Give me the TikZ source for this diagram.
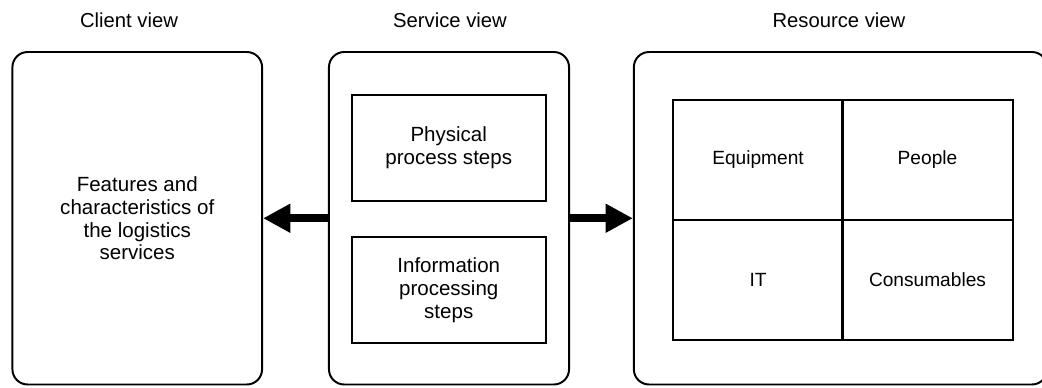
\documentclass[tikz,border=0pt]{standalone}
\usepackage{fontspec}
\setmainfont{Liberation Sans}
\usetikzlibrary{arrows.meta, positioning}

\begin{document}
\begin{tikzpicture}[x=0.025cm, y=-0.025cm,
  view/.style={draw, line width=1.4pt, rounded corners=0.38cm, minimum height=8.31cm, align=center, font=\fontsize{14.6}{16.3}\selectfont},
  stepbox/.style={draw, line width=1.4pt, align=center, minimum width=4.84cm, minimum height=2.64cm, font=\fontsize{14.6}{16.3}\selectfont},
  cell/.style={draw, line width=1.4pt, minimum width=4.25cm, minimum height=3.02cm, font=\fontsize{13.6}{15}\selectfont},
  title/.style={font=\fontsize{14.4}{17}\selectfont},
  bigarrow/.style={line width=5.7pt, -{Triangle[length=0.68cm, width=0.68cm]}}]
\useasboundingbox (0,0) rectangle (1042,388);

\node[title] (clienttitle) at (129,20) {Client view};
\node[title] (servicetitle) at (450,20) {Service view};
\node[title] (resourcetitle) at (839,20) {Resource view};

\node[view, minimum width=6.24cm] (client) at (137.25,218.25) {Features and\\characteristics of\\the logistics\\services};
\node[view, minimum width=6.0cm] (service) at (449,218.25) {};
\node[view, minimum width=10.33cm] (resource) at (840.5,218.25) {};

\node[stepbox] (physical) at (448.75,147.75) {Physical\\process steps};
\node[stepbox] (information) at (448.75,290.25) {Information\\processing\\steps};

\node[cell] (equipment) at (758,160) {Equipment};
\node[cell] (people) at (927.5,160) {People};
\node[cell] (it) at (758,280) {IT};
\node[cell] (consumables) at (927.5,280) {Consumables};

\draw[bigarrow] (service) -- (client);
\draw[bigarrow] (service) -- (resource);
\end{tikzpicture}
\end{document}
